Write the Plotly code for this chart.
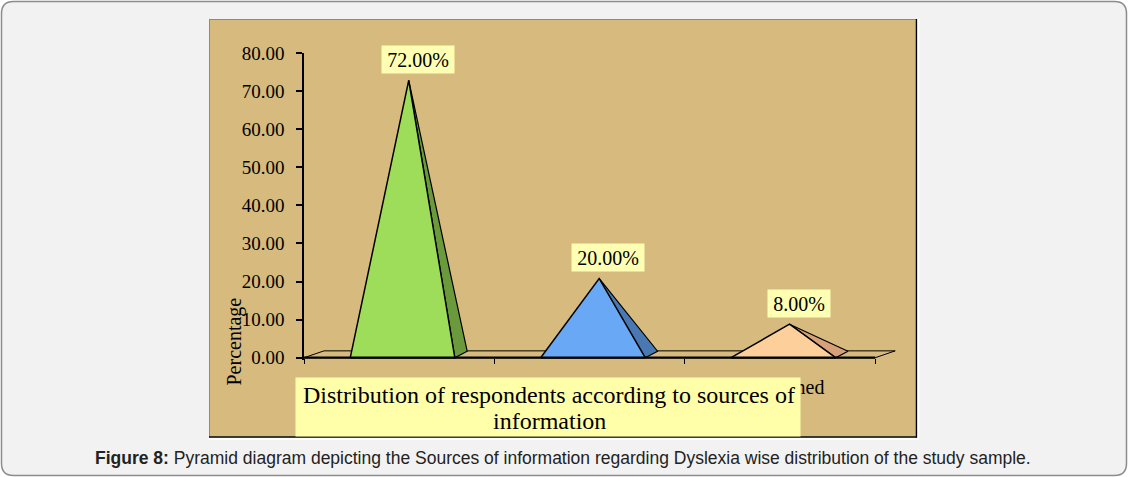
import plotly.graph_objects as go

# ---------------- data ----------------
categories = ["Teachers", "Media", "Not mentioned"]
values = [72.0, 20.0, 8.0]
value_labels = ["72.00%", "20.00%", "8.00%"]
y_ticks = [0, 10, 20, 30, 40, 50, 60, 70, 80]
front_colors = ["#9ddd5a", "#68a8f4", "#fdd09b"]
side_colors = ["#6a9a3c", "#4a78b2", "#d6a078"]

title_lines = ["Distribution of respondents according to sources of", "information"]
caption_text = ("<b>Figure 8:</b> Pyramid diagram depicting the Sources of information "
                "regarding Dyslexia wise distribution of the study sample.")

# ---------------- layout geometry ----------------
W, H = 1128, 477
L, R, T, B = 304, 211, 53, 117
PW = W - L - R
PH = H - T - B
UNIT = 190.4
x_range = [-0.5, -0.5 + PW / UNIT]
y_range = [-0.6, 80]

TAN = "#d6ba7e"
SERIF = "Liberation Serif"


def px(xp):
    return (xp - L) / PW


def py(yp):
    return (H - B - yp) / PH


# pyramid shape constants (category units / value units)
BL, BR, AP, SD = -0.257, 0.292, 0.05, 0.357
FDX, FDY = 0.105, 1.8
SIDE_DY, APEX_LIFT = 1.7, 0.8

fig = go.Figure()

# floor
n = len(categories)
fig.add_trace(go.Scatter(
    x=[-0.5, n - 0.5, n - 0.5 + FDX, -0.5 + FDX, -0.5],
    y=[0, 0, FDY, FDY, 0],
    fill="toself", fillcolor=TAN, mode="lines",
    line=dict(color="black", width=1), hoverinfo="skip", showlegend=False))

for i, (cat, v) in enumerate(zip(categories, values)):
    apex_y = v + APEX_LIFT
    fig.add_trace(go.Scatter(
        x=[i + AP, i + BR, i + SD, i + AP],
        y=[apex_y, 0, SIDE_DY, apex_y],
        fill="toself", fillcolor=side_colors[i], mode="lines",
        line=dict(color="black", width=1.2), hoverinfo="skip", showlegend=False))
    fig.add_trace(go.Scatter(
        x=[i + BL, i + BR, i + AP, i + BL],
        y=[0, 0, apex_y, 0],
        fill="toself", fillcolor=front_colors[i], mode="lines",
        line=dict(color="black", width=1.5), name=cat, showlegend=False))

# floor front edge
fig.add_trace(go.Scatter(
    x=[-0.5, n - 0.5], y=[0, 0], mode="lines",
    line=dict(color="black", width=2.2), hoverinfo="skip", showlegend=False))

annotations = []
# category labels (mostly hidden behind the title box)
for i, cat in enumerate(categories):
    annotations.append(dict(
        x=i, y=0, xref="x", yref="y", text=cat, showarrow=False,
        xanchor="center", yanchor="middle",
        xshift=-16, yshift=-29, font=dict(family=SERIF, size=20, color="black")))

# value labels
for i, (v, lab) in enumerate(zip(values, value_labels)):
    annotations.append(dict(
        x=i + AP, y=v, xref="x", yref="y", text=lab, showarrow=False,
        xanchor="center", yanchor="middle",
        xshift=9, yshift=24, bgcolor="#ffffb3", borderpad=0,
        width=10 * len(lab) + 12, height=27,
        font=dict(family=SERIF, size=20, color="black")))

# title box (background) and its two lines
annotations.append(dict(
    x=px(548), y=py(407), xref="paper", yref="paper", text=" ",
    xanchor="center", yanchor="middle",
    showarrow=False, bgcolor="#ffffaa", borderpad=0, width=504, height=58,
    font=dict(family=SERIF, size=12, color="black")))
for k, line in enumerate(title_lines):
    annotations.append(dict(
        x=px(549), y=py(395 + 26 * k), xref="paper", yref="paper", text=line,
        xanchor="center", yanchor="middle", showarrow=False,
        font=dict(family=SERIF, size=24, color="black")))

# y axis title
annotations.append(dict(
    x=px(233.5), y=py(342), xref="paper", yref="paper", text="Percentage",
    xanchor="center", yanchor="middle",
    showarrow=False, textangle=-90, font=dict(family=SERIF, size=20, color="black")))

# caption
annotations.append(dict(
    x=px(563), y=py(458), xref="paper", yref="paper", text=caption_text,
    xanchor="center", yanchor="middle",
    showarrow=False, font=dict(family="Liberation Sans", size=17.5, color="#222222")))


def rounded_path(x0, y0, x1, y1, r):
    pts = [
        ("M", [(x0 + r, y0)]),
        ("L", [(x1 - r, y0)]),
        ("Q", [(x1, y0), (x1, y0 + r)]),
        ("L", [(x1, y1 - r)]),
        ("Q", [(x1, y1), (x1 - r, y1)]),
        ("L", [(x0 + r, y1)]),
        ("Q", [(x0, y1), (x0, y1 - r)]),
        ("L", [(x0, y0 + r)]),
        ("Q", [(x0, y0), (x0 + r, y0)]),
    ]
    s = ""
    for cmd, ps in pts:
        s += cmd + " " + " ".join(f"{px(a):.5f},{py(b):.5f}" for a, b in ps) + " "
    return s + "Z"


shapes = [
    dict(type="path", xref="paper", yref="paper", path=rounded_path(1.5, 1.5, 1126.5, 475.5, 12),
         fillcolor="#f2f2f2", line=dict(color="#8c8c8c", width=1.5), layer="below"),
    dict(type="rect", xref="paper", yref="paper", x0=px(209), x1=px(916), y0=py(19), y1=py(436.5),
         fillcolor=TAN, line=dict(width=0), layer="below"),
    dict(type="line", xref="paper", yref="paper", x0=px(209.5), x1=px(209.5), y0=py(19), y1=py(437),
         line=dict(color="#8a8a8a", width=1), layer="below"),
    dict(type="line", xref="paper", yref="paper", x0=px(209), x1=px(917), y0=py(19.5), y1=py(19.5),
         line=dict(color="#8a8a8a", width=1), layer="below"),
    dict(type="line", xref="paper", yref="paper", x0=px(916.5), x1=px(916.5), y0=py(19), y1=py(437.5),
         line=dict(color="black", width=1.5), layer="below"),
    dict(type="line", xref="paper", yref="paper", x0=px(209), x1=px(917), y0=py(437), y1=py(437),
         line=dict(color="black", width=1.5), layer="below"),
    dict(type="line", xref="paper", yref="paper", x0=px(918.5), x1=px(918.5), y0=py(19), y1=py(439),
         line=dict(color="white", width=2), layer="below"),
    dict(type="line", xref="paper", yref="paper", x0=px(209), x1=px(919), y0=py(439), y1=py(439),
         line=dict(color="white", width=2), layer="below"),
]

fig.update_layout(
    width=W, height=H,
    margin=dict(l=L, r=R, t=T, b=B, pad=0),
    paper_bgcolor="white", plot_bgcolor="rgba(0,0,0,0)",
    showlegend=False,
    annotations=annotations, shapes=shapes,
    xaxis=dict(range=x_range, showgrid=False, zeroline=False, showline=False,
               tickmode="array", tickvals=[k - 0.5 for k in range(n + 1)],
               ticks="outside", ticklen=5, tickwidth=1, tickcolor="black",
               showticklabels=False, anchor="free", position=py(357.7),
               fixedrange=True),
    yaxis=dict(range=y_range, showgrid=False, zeroline=False, showline=True,
               linecolor="black", linewidth=1.5,
               tickmode="array", tickvals=y_ticks, tickformat=".2f",
               ticks="outside", ticklen=6, tickwidth=1.5, tickcolor="black",
               ticklabelstandoff=8,
               tickfont=dict(family=SERIF, size=19, color="black"),
               fixedrange=True),
)

fig.write_html("out.html")
